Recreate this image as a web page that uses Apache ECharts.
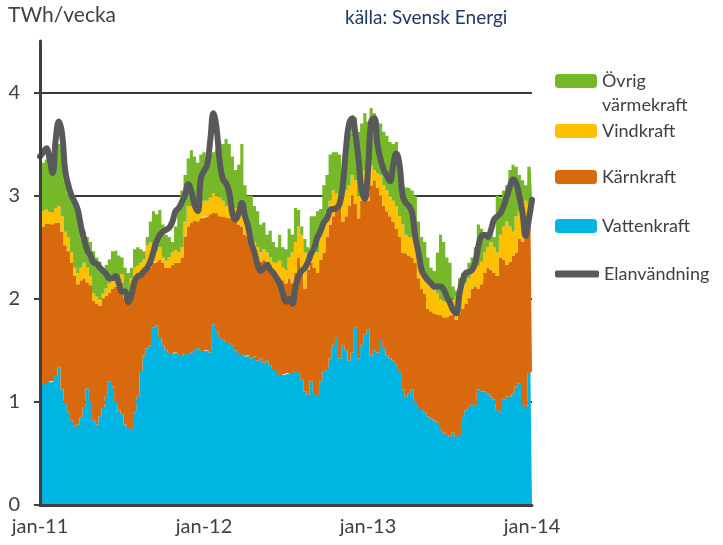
<!DOCTYPE html>
<html><head><meta charset="utf-8">
<script src="https://cdn.jsdelivr.net/npm/echarts@6/dist/echarts.min.js"></script>
<style>html,body{margin:0;padding:0;background:#fff}#c{width:723px;height:545px}</style>
</head><body><div id="c"></div>
<script>
// ---- data (TWh per week, jan 2011 – jan 2014) ----
const xTickLabels = ['jan-11', 'jan-12', 'jan-13', 'jan-14'];
const xTickWeekIndex = [0, 52, 104, 156];
const yTickValues = [0, 1, 2, 3, 4];

const vattenkraft = [
  1.17,1.18,1.17,1.19,1.2,1.25,1.33,1.12,0.98,0.9,0.82,0.76,0.78,0.85,0.95,1.13,1.0,0.82,0.78,0.86,0.95,1.05,1.2,1.15,1.0,0.92,0.88,
  0.78,0.75,0.74,0.9,1.05,1.3,1.45,1.52,1.55,1.72,1.74,1.62,1.55,1.5,1.48,1.47,1.48,1.46,1.45,1.47,1.46,1.48,1.5,1.52,1.5,1.49,
  1.5,1.48,1.75,1.68,1.62,1.6,1.58,1.57,1.55,1.5,1.47,1.46,1.44,1.45,1.42,1.44,1.4,1.42,1.38,1.4,1.35,1.32,1.3,1.26,1.26,1.27,
  1.28,1.27,1.3,1.28,1.22,1.1,1.07,1.2,1.08,1.07,1.2,1.3,1.32,1.42,1.55,1.62,1.42,1.55,1.5,1.4,1.48,1.72,1.42,1.55,1.65,
  1.7,1.45,1.5,1.48,1.6,1.52,1.45,1.42,1.4,1.36,1.3,1.12,1.05,1.08,1.12,1.0,0.95,0.93,0.9,0.86,0.84,0.82,0.8,0.74,0.7,0.68,0.66,
  0.7,0.65,0.68,0.85,0.92,0.95,0.98,0.96,1.12,1.1,1.1,1.08,1.05,1.02,0.92,0.9,1.02,1.05,1.05,1.08,1.15,1.18,0.98,0.95,1.28,1.3
];
const karnkraft = [
  1.40,1.52,1.56,1.54,1.52,1.49,1.41,1.53,1.54,1.56,1.53,1.46,1.36,1.33,1.25,1.03,1.13,1.16,1.17,1.07,1.05,0.98,0.86,0.95,1.12,1.23,1.28,
  1.22,1.27,1.34,1.25,1.15,0.92,0.80,0.76,0.75,0.63,0.62,0.76,0.80,0.80,0.82,0.86,0.87,0.89,0.95,1.13,1.24,1.26,1.26,1.23,1.28,1.30,
  1.30,1.34,1.09,1.15,1.18,1.20,1.21,1.21,1.23,1.26,1.25,1.24,1.18,1.15,1.08,0.96,0.98,0.94,1.00,0.95,0.93,0.93,0.90,0.94,0.92,0.88,
  0.92,0.88,0.95,1.12,1.08,1.00,1.21,1.15,1.22,1.18,1.18,1.15,1.28,1.30,1.25,1.28,1.46,1.20,1.30,1.50,1.52,1.20,1.36,1.40,1.40,
  1.25,1.65,1.65,1.60,1.40,1.38,1.40,1.38,1.35,1.32,1.30,1.33,1.39,1.34,1.28,1.35,1.25,1.17,1.15,1.04,1.04,1.04,1.05,1.10,1.12,1.14,1.18,
  1.15,1.15,1.18,1.05,1.03,1.05,1.12,1.16,0.98,1.04,1.15,1.22,1.23,1.23,1.30,1.50,1.36,1.28,1.31,1.34,1.30,1.40,1.57,1.77,1.47,1.48
];
const vindkraft = [
  0.23,0.15,0.14,0.12,0.12,0.14,0.16,0.15,0.13,0.14,0.10,0.08,0.11,0.12,0.15,0.14,0.09,0.07,0.07,0.07,0.05,0.07,0.09,0.08,0.08,0.07,0.08,
  0.05,0.06,0.12,0.15,0.12,0.13,0.13,0.24,0.25,0.13,0.10,0.12,0.05,0.07,0.10,0.12,0.12,0.10,0.10,0.15,0.20,0.16,0.12,0.17,0.12,0.16,
  0.15,0.16,0.18,0.17,0.18,0.15,0.11,0.14,0.12,0.12,0.14,0.15,0.13,0.10,0.10,0.15,0.12,0.09,0.10,0.10,0.12,0.11,0.15,0.17,0.12,0.13,
  0.20,0.30,0.30,0.30,0.32,0.35,0.12,0.15,0.25,0.20,0.22,0.30,0.25,0.23,0.25,0.12,0.12,0.25,0.25,0.20,0.20,0.23,0.22,0.25,0.20,
  0.25,0.20,0.10,0.14,0.20,0.20,0.20,0.20,0.20,0.22,0.20,0.27,0.18,0.18,0.20,0.20,0.20,0.20,0.20,0.30,0.24,0.22,0.20,0.16,0.16,0.15,0.15,
  0.15,0.22,0.19,0.20,0.20,0.20,0.15,0.18,0.22,0.22,0.20,0.20,0.27,0.25,0.23,0.22,0.32,0.42,0.34,0.23,0.35,0.27,0.35,0.23,0.17,0.22
];
const ovrigVarmekraft = [
  0.50,0.47,0.48,0.45,0.36,0.57,0.60,0.65,0.50,0.42,0.53,0.62,0.63,0.46,0.31,0.30,0.33,0.41,0.38,0.36,0.25,0.23,0.23,0.28,0.27,0.20,0.16,
  0.25,0.17,0.10,0.18,0.18,0.13,0.08,0.08,0.20,0.37,0.36,0.36,0.32,0.25,0.20,0.10,0.23,0.40,0.55,0.45,0.46,0.54,0.50,0.40,0.50,0.47,
  0.40,0.42,0.40,0.45,0.54,0.55,0.65,0.58,0.48,0.37,0.44,0.65,0.35,0.30,0.40,0.35,0.35,0.27,0.26,0.17,0.26,0.19,0.15,0.25,0.20,0.20,
  0.28,0.17,0.33,0.16,0.08,0.13,0.10,0.30,0.25,0.40,0.27,0.35,0.35,0.45,0.37,0.40,0.40,0.25,0.50,0.50,0.55,0.61,0.62,0.50,0.55,
  0.52,0.55,0.55,0.50,0.50,0.52,0.53,0.52,0.55,0.62,0.40,0.38,0.46,0.47,0.45,0.45,0.35,0.30,0.30,0.20,0.18,0.19,0.40,0.62,0.57,0.43,0.36,
  0.12,0.06,0.15,0.15,0.07,0.15,0.15,0.20,0.40,0.32,0.17,0.10,0.10,0.10,0.55,0.36,0.35,0.35,0.55,0.65,0.48,0.35,0.25,0.15,0.36,0.32
];
const elanvandning = [
  3.38,3.42,3.46,3.36,3.22,3.55,3.72,3.6,3.24,3.1,3.0,2.94,2.86,2.7,2.58,2.47,2.42,2.35,2.34,2.3,2.27,2.24,2.2,2.2,2.22,2.15,2.07,
  2.07,1.97,2.04,2.17,2.22,2.23,2.27,2.3,2.36,2.46,2.56,2.62,2.65,2.67,2.69,2.75,2.85,2.88,2.94,3.01,3.11,3.04,2.91,2.85,3.17,3.24,
  3.3,3.54,3.8,3.65,3.32,3.16,3.12,3.03,2.83,2.77,2.83,2.93,2.8,2.7,2.54,2.45,2.33,2.27,2.3,2.33,2.28,2.25,2.2,2.15,2.05,1.97,
  2.0,1.95,2.12,2.22,2.27,2.3,2.36,2.44,2.5,2.6,2.66,2.74,2.78,2.86,2.87,2.88,2.92,3.1,3.45,3.7,3.75,3.6,3.35,3.05,2.97,
  3.25,3.72,3.75,3.5,3.35,3.25,3.19,3.14,3.3,3.41,3.3,3.0,2.93,2.9,2.83,2.6,2.45,2.28,2.22,2.18,2.15,2.12,2.12,2.12,2.09,2.02,1.96,
  1.89,1.86,2.05,2.18,2.25,2.26,2.28,2.35,2.51,2.61,2.62,2.6,2.67,2.77,2.8,2.83,2.9,2.99,3.09,3.16,3.12,2.99,2.83,2.61,2.77,2.96
];

// week categories
const weeks = vattenkraft.map((_, i) => (2011 + Math.floor(i / 52)) + '-v' + ((i % 52) + 1));

// ---- styling ----
const FONT = 'Lato';
const TXT = '#404040';
const C_OVRIG = '#76b82a', C_VIND = '#ffc000', C_KARN = '#d8690c', C_VATTEN = '#00b5e2', C_EL = '#58595b';

// stacked stepped areas (weekly columns without gaps)
function areaSeries(name, data, color) {
  return {
    name, type: 'line', stack: 'prod', data, zlevel: 1, z: 2,
    step: 'middle', symbol: 'none', showSymbol: false,
    color, itemStyle: { color },
    lineStyle: { width: 0, color },
    areaStyle: { color, opacity: 1 },
    emphasis: { disabled: true }
  };
}

function legendItem(name, top, extra) {
  return Object.assign({
    data: [name], left: 555, top, padding: 0, orient: 'horizontal',
    itemWidth: 42, itemHeight: 14, itemGap: 0, icon: 'roundRect', selectedMode: false,
    textStyle: { fontSize: 18, fontFamily: FONT, color: TXT, lineHeight: 20, padding: [0, 0, 0, 0] }
  }, extra || {});
}

const chart = echarts.init(document.getElementById('c'), null, { renderer: 'canvas' });
chart.setOption({
  animation: false,
  backgroundColor: '#ffffff',
  grid: { left: 40, right: 191, top: 41, bottom: 40, containLabel: false },
  xAxis: {
    type: 'category', data: weeks, boundaryGap: false, zlevel: 1, z: 10,
    axisLine: { show: true, lineStyle: { color: TXT, width: 3 } },
    axisTick: { show: false },
    axisLabel: {
      interval: (idx) => xTickWeekIndex.includes(idx),
      formatter: (val, idx) => { const k = xTickWeekIndex.indexOf(idx); return k >= 0 ? xTickLabels[k] : ''; },
      fontSize: 20, fontFamily: FONT, color: TXT, margin: 12
    },
    splitLine: { show: false }
  },
  yAxis: [
    {
      type: 'value', min: 0, max: 4.5, interval: 1, zlevel: 0, z: 0,
      axisLine: { show: false }, axisTick: { show: false }, axisLabel: { show: false },
      splitLine: { show: true, showMinLine: false, showMaxLine: false, lineStyle: { color: '#3a3a3a', width: 2 } }
    },
    {
      type: 'value', min: 0, max: 4.5, interval: 1, zlevel: 1, z: 10, position: 'left',
      axisLine: { show: true, onZero: false, lineStyle: { color: TXT, width: 3 } },
      axisTick: { show: true, inside: false, length: 6, customValues: yTickValues, lineStyle: { color: TXT, width: 2 } },
      axisLabel: { customValues: yTickValues, fontSize: 20, fontFamily: FONT, color: TXT, margin: 20 },
      splitLine: { show: false }
    }
  ],
  legend: [
    legendItem('Övrig värmekraft', 71, { formatter: () => 'Övrig' }),
    legendItem('Vindkraft', 121),
    legendItem('Kärnkraft', 167),
    legendItem('Vattenkraft', 216),
    legendItem('Elanvändning', 264, { itemHeight: 7, itemWidth: 44 })
  ],
  graphic: [
    { type: 'text', x: 8, y: 15, style: { text: 'TWh/vecka', fontSize: 21, fontFamily: FONT, fill: TXT, verticalAlign: 'middle' } },
    { type: 'text', x: 345, y: 18, style: { text: 'källa: Svensk Energi', fontSize: 19, fontFamily: FONT, fill: '#1f3864', verticalAlign: 'middle' } },
    { type: 'text', x: 602, y: 105, style: { text: 'värmekraft', fontSize: 18, fontFamily: FONT, fill: TXT, verticalAlign: 'middle' } }
  ],
  series: [
    areaSeries('Vattenkraft', vattenkraft, C_VATTEN),
    areaSeries('Kärnkraft', karnkraft, C_KARN),
    areaSeries('Vindkraft', vindkraft, C_VIND),
    areaSeries('Övrig värmekraft', ovrigVarmekraft, C_OVRIG),
    {
      name: 'Elanvändning', type: 'line', data: elanvandning, smooth: 0.45, zlevel: 1,
      showSymbol: false, symbol: 'none', z: 5, color: C_EL,
      itemStyle: { color: C_EL },
      lineStyle: { color: C_EL, width: 6, cap: 'round', join: 'round' },
      emphasis: { disabled: true }
    }
  ]
});
</script>
</body></html>
